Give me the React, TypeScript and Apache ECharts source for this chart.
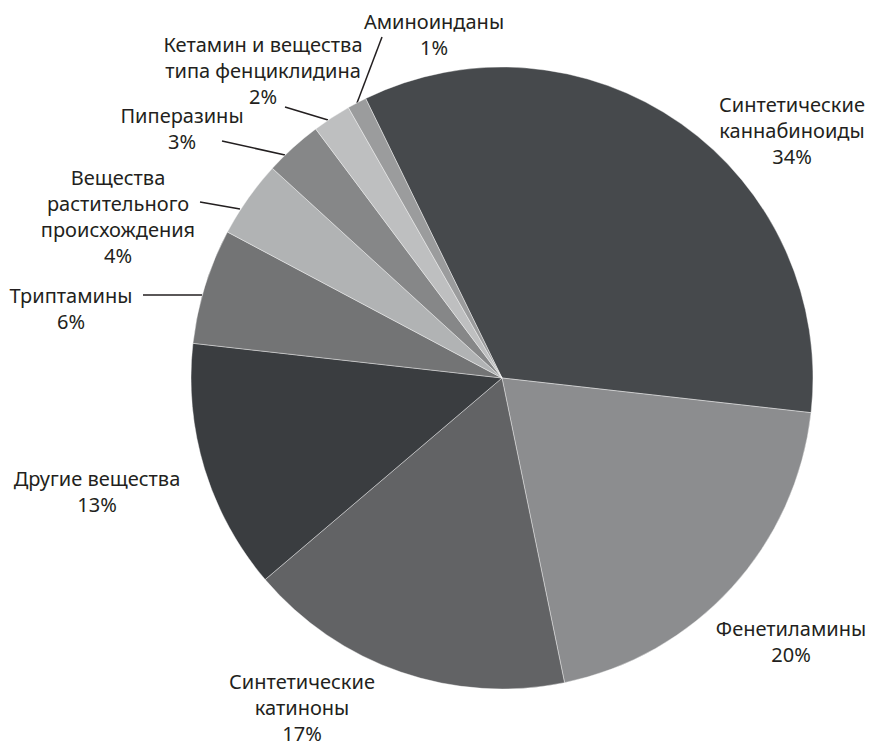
import React, { useEffect, useRef } from "react";
import * as echarts from "echarts";

const categories = [
  "Синтетические\nканнабиноиды",
  "Фенетиламины",
  "Синтетические\nкатиноны",
  "Другие вещества",
  "Триптамины",
  "Вещества\nрастительного\nпроисхождения",
  "Пиперазины",
  "Кетамин и вещества\nтипа фенциклидина",
  "Аминоинданы",
];

const shares = [34, 20, 17, 13, 6, 4, 3, 2, 1];

const sliceColors = [
  "#46494c",
  "#8c8d8f",
  "#626365",
  "#3a3d40",
  "#737475",
  "#b1b3b4",
  "#868788",
  "#bebfc0",
  "#9b9c9d",
];

// label block centres and leader lines (layout only)
const labelCenters: [number, number][] = [
  [792, 130],
  [791, 641],
  [302, 707],
  [97, 491],
  [71, 308],
  [118, 216],
  [182, 128],
  [263, 70],
  [434, 34],
];

const leaderLines: ([number, number][] | null)[] = [
  null,
  null,
  null,
  null,
  [[143, 295], [202, 295]],
  [[200, 202], [240, 209]],
  [[222, 141], [285, 155]],
  [[285, 107], [328, 120]],
  [[382, 37], [357, 103]],
];

export default function App() {
  const ref = useRef<HTMLDivElement>(null);
  useEffect(() => {
    if (!ref.current) return;
    const chart = echarts.init(ref.current, null, { renderer: "svg" });
    chart.setOption({
      animation: false,
      backgroundColor: "#ffffff",
      series: [
        {
          type: "pie",
          center: [502, 378],
          radius: 311,
          startAngle: 116,
          clockwise: true,
          avoidLabelOverlap: false,
          itemStyle: { borderColor: "#ffffff", borderWidth: 0.4 },
          label: {
            show: true,
            color: "#231f20",
            fontFamily: "Noto Sans",
            fontSize: 20,
            lineHeight: 26,
            align: "center",
            formatter: (p: any) => `${p.name}\n${p.value}%`,
          },
          labelLine: {
            show: true,
            smooth: false,
            lineStyle: { color: "#231f20", width: 1.5 },
          },
          labelLayout: (params: any) => {
            const i = params.dataIndex;
            const c = labelCenters[i];
            const out: any = {
              x: c[0],
              y: c[1],
              align: "center",
              verticalAlign: "middle",
            };
            const pts = leaderLines[i];
            if (pts) out.labelLinePoints = [pts[1], pts[1], pts[0]];
            return out;
          },
          data: categories.map((name, i) => ({
            name,
            value: shares[i],
            itemStyle: { color: sliceColors[i] },
            labelLine: { show: !!leaderLines[i] },
          })),
        },
      ],
    });
    return () => chart.dispose();
  }, []);
  return (
    <div
      ref={ref}
      style={{ position: "fixed", left: 0, top: 0, width: 870, height: 747 }}
    />
  );
}
